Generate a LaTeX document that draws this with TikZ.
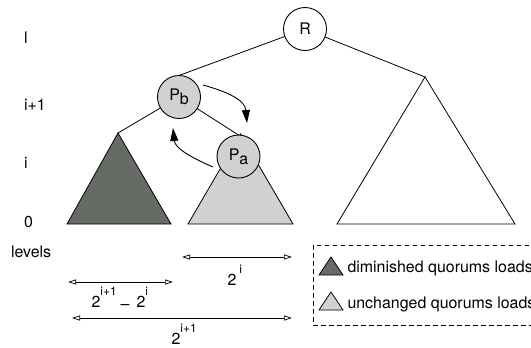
\documentclass[tikz,border=0pt]{standalone}
\usepackage{fontspec}
\setmainfont{TeX Gyre Heros}
\usetikzlibrary{arrows.meta}
\definecolor{darkfill}{RGB}{102,107,102}
\definecolor{lightfill}{RGB}{209,209,209}
\newcommand\upx[1]{\raisebox{12bp}{\fontsize{12}{12}\selectfont #1}}
\newcommand\dnx[1]{\raisebox{-4bp}{#1}}
\begin{document}
\begin{tikzpicture}[x=1bp,y=-1bp,
  every node/.style={font=\fontsize{16}{18}\selectfont, inner sep=0pt, outer sep=0pt},
  treenode/.style={circle, draw, fill=lightfill, line width=0.9bp, minimum size=43bp},
  lvl/.style={anchor=base west},
  edge/.style={line width=0.8bp},
  tri/.style={draw, line width=0.8bp, line join=miter},
  dimarrow/.style={line width=0.7bp, {Triangle[open,length=8bp,width=5bp]}-{Triangle[open,length=8bp,width=5bp]}},
  curvearrow/.style={line width=0.9bp, -{Triangle[length=13bp,width=8bp]}},
  dashedbox/.style={draw, line width=0.7bp, dash pattern=on 4.5bp off 3.5bp}
]
\useasboundingbox (0,0) rectangle (531,347);
\clip (0,0) rectangle (531,347);

% level labels
\node[lvl] (lvl) at (24,43) {l};
\node[lvl] (lvi1) at (24,110) {i+1};
\node[lvl] (lvi) at (24,168) {i};
\node[lvl] (lv0) at (24,227) {0};
\node[lvl] (lvs) at (11,257) {levels};

% subtrees
\coordinate (dA) at (118,133);
\coordinate (lA) at (240.5,134);
\coordinate (rA) at (425,77);
\path[tri, fill=darkfill] (67,224) -- (171,224) -- (dA) -- cycle;
\path[tri, fill=lightfill] (188,224) -- (293,224) -- (lA) -- cycle;
\path[tri, fill=white] (337,224) -- (515,224) -- (rA) -- cycle;

% tree nodes
\node[treenode, fill=white] (R) at (305,29) {R};
\node[treenode] (Pb) at (179,97) {P\dnx{b}};
\node[treenode] (Pa) at (238.5,156.5) {P\dnx{a}};

% tree edges
\draw[edge] (R) -- (Pb.north);
\draw[edge] (R) -- (rA);
\draw[edge] (Pb) -- (dA);
\draw[edge] (Pb) -- (Pa.north);

% curved arrows
\coordinate (c1s) at (203,85);
\coordinate (c1e) at (247,123);
\coordinate (c2s) at (213,167);
\coordinate (c2e) at (173,128);
\draw[curvearrow] (c1s) .. controls (228,92) and (245,100) .. (c1e);
\draw[curvearrow] (c2s) .. controls (190,157) and (175,148) .. (c2e);

% dimension arrows
\coordinate (a1l) at (182,257);
\coordinate (a1r) at (292,257);
\coordinate (a2l) at (68,282);
\coordinate (a2r) at (173,282);
\coordinate (a3l) at (72,318);
\coordinate (a3r) at (292,318);
\draw[dimarrow] (a1l) -- (a1r);
\draw[dimarrow] (a2l) -- (a2r);
\draw[dimarrow] (a3l) -- (a3r);
\node[lvl] (t1) at (227.5,285) {2\hspace{3bp}\upx{i}};
\node[lvl] (t2) at (91.5,307) {2\upx{i+1}\hspace{4bp}\raisebox{-2bp}{–}\hspace{7bp}2\upx{i}};
\node[lvl] (t3) at (171.5,344) {2\upx{i+1}};

% legend
\draw[dashedbox] (313,245) rectangle (545,325);
\path[tri, fill=darkfill] (319,275) -- (343,275) -- (331,257) -- cycle;
\path[tri, fill=lightfill] (319,310) -- (343,310) -- (331,292) -- cycle;
\node[lvl] (leg1) at (347.5,272) {diminished quorums loads};
\node[lvl] (leg2) at (347.5,308) {unchanged quorums loads};
\end{tikzpicture}
\end{document}
